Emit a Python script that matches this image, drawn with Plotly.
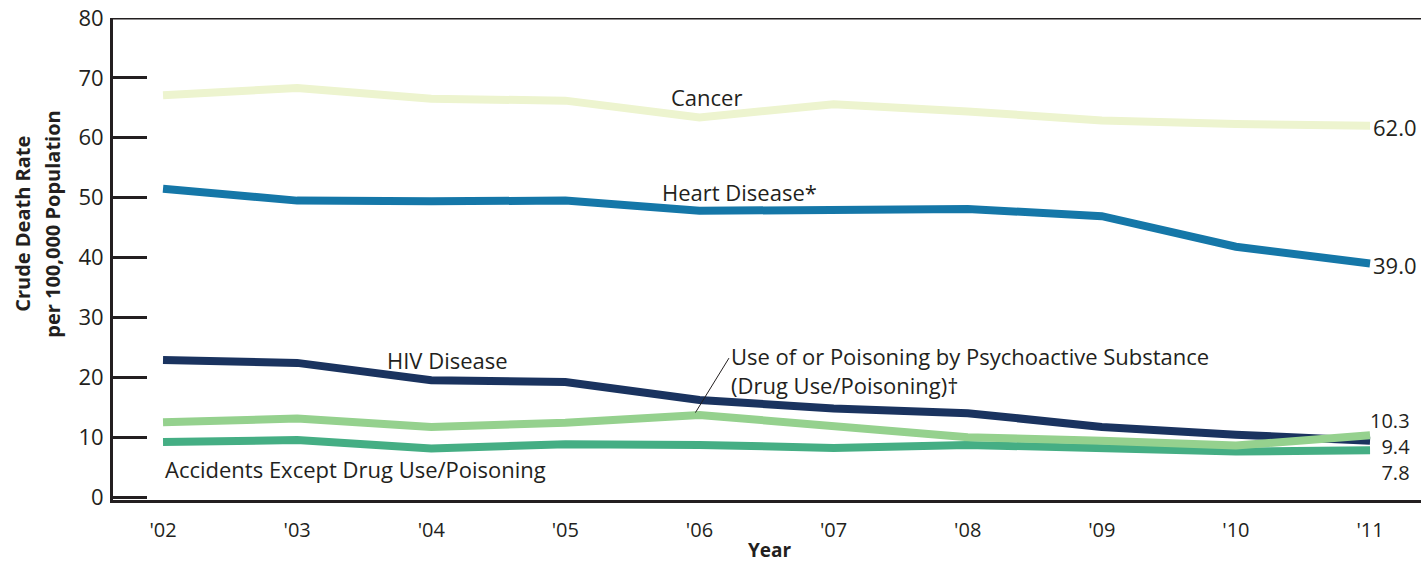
import plotly.graph_objects as go

years = [2002, 2003, 2004, 2005, 2006, 2007, 2008, 2009, 2010, 2011]
year_labels = ["'02", "'03", "'04", "'05", "'06", "'07", "'08", "'09", "'10", "'11"]

cancer = [67.1, 68.3, 66.5, 66.2, 63.4, 65.6, 64.4, 62.9, 62.3, 62.0]
heart = [51.5, 49.5, 49.4, 49.5, 47.8, 48.0, 48.1, 46.9, 41.8, 39.0]
hiv = [22.9, 22.4, 19.5, 19.2, 16.2, 14.8, 14.0, 11.7, 10.4, 9.4]
drug = [12.5, 13.1, 11.7, 12.4, 13.7, 11.7, 10.0, 9.4, 8.6, 10.3]
accidents = [9.2, 9.5, 8.1, 8.8, 8.7, 8.2, 8.7, 8.2, 7.6, 7.8]

series = [
    ('Cancer', cancer, '#edf4cf'),
    ('Heart Disease*', heart, '#1577a8'),
    ('HIV Disease', hiv, '#1a335f'),
    ('Accidents Except Drug Use/Poisoning', accidents, '#45ae84'),
    ('Drug Use/Poisoning', drug, '#95d18e'),
]

dark = '#231f20'
sans = 'Open Sans, Noto Sans, sans-serif'
txt_font = dict(family=sans, size=22, color=dark)

fig = go.Figure()
for name, vals, color in series:
    fig.add_trace(go.Scatter(
        x=years,
        y=vals,
        mode='lines',
        name=name,
        line=dict(color=color, width=8),
        showlegend=False,
        hoverinfo='skip'
    ))

# labels on the lines
fig.add_annotation(x=2006.05, y=66.8, text='Cancer', showarrow=False, font=txt_font)
fig.add_annotation(x=2006.3, y=51.0, text='Heart Disease*', showarrow=False, font=txt_font)
fig.add_annotation(x=2004.12, y=22.9, text='HIV Disease', showarrow=False, font=txt_font)
fig.add_annotation(x=2006.22, y=23.6, text='Use of or Poisoning by Psychoactive Substance',
                   showarrow=False, xanchor='left', font=txt_font)
fig.add_annotation(x=2006.22, y=18.7, text='(Drug Use/Poisoning)†',
                   showarrow=False, xanchor='left', font=txt_font)
fig.add_annotation(x=2002.0, y=4.7, text='Accidents Except Drug Use/Poisoning',
                   showarrow=False, xanchor='left', font=txt_font)

# leader line for drug label
fig.add_shape(type='line', x0=2005.97, y0=14.1, x1=2006.22, y1=23.2,
              line=dict(color=dark, width=1))

# end values
fig.add_annotation(x=2011.01, y=cancer[-1], text='%.1f' % cancer[-1], showarrow=False,
                   xanchor='left', yshift=-1, font=txt_font)
fig.add_annotation(x=2011.01, y=heart[-1], text='%.1f' % heart[-1], showarrow=False,
                   xanchor='left', yshift=-2, font=txt_font)
fig.add_annotation(x=2011.31, y=8.4, xanchor='right', yanchor='middle', align='right',
                   text='%.1f<br>%.1f<br>%.1f' % (drug[-1], hiv[-1], accidents[-1]),
                   showarrow=False, font=dict(family=sans, size=20, color=dark))

# top border
fig.add_shape(type='line', xref='paper', yref='y', x0=0, x1=1, y0=80, y1=80,
              line=dict(color=dark, width=3))

# y axis title, two lines
title_font = dict(family=sans, size=20, color=dark)
fig.add_annotation(xref='paper', yref='paper', x=-0.0688, y=0.573, xanchor='center',
                   yanchor='middle', text='<b>Crude Death Rate</b>', textangle=-90,
                   showarrow=False, font=title_font)
fig.add_annotation(xref='paper', yref='paper', x=-0.0459, y=0.573, xanchor='center',
                   yanchor='middle', text='<b>per 100,000 Population</b>', textangle=-90,
                   showarrow=False, font=title_font)

# x axis title
fig.add_annotation(xref='paper', yref='paper', x=0.502, y=-0.104, xanchor='center',
                   yanchor='middle', text='<b>Year</b>', showarrow=False,
                   font=dict(family=sans, size=19, color=dark))

fig.update_xaxes(
    range=[2001.627, 2011.38],
    tickvals=years,
    ticktext=year_labels,
    showgrid=False,
    zeroline=False,
    showline=True,
    linecolor=dark,
    linewidth=3,
    ticks='',
    ticklabelstandoff=10,
    tickfont=dict(family=sans, size=20, color=dark)
)
fig.update_yaxes(
    range=[-0.5, 80],
    tickvals=[0, 10, 20, 30, 40, 50, 60, 70, 80],
    showgrid=False,
    zeroline=False,
    showline=True,
    linecolor=dark,
    linewidth=3,
    ticks='inside',
    ticklen=34,
    tickwidth=3,
    tickcolor=dark,
    ticklabelstandoff=2,
    tickfont=dict(family=sans, size=22, color=dark)
)
fig.update_layout(
    width=1421,
    height=565,
    margin=dict(l=113, r=0, t=18, b=65),
    plot_bgcolor='white',
    paper_bgcolor='white'
)
# drop the default body margin so the figure fills the window
fig.write_html('out.html', config={'displayModeBar': False},
               post_script="document.body.style.margin='0';")
